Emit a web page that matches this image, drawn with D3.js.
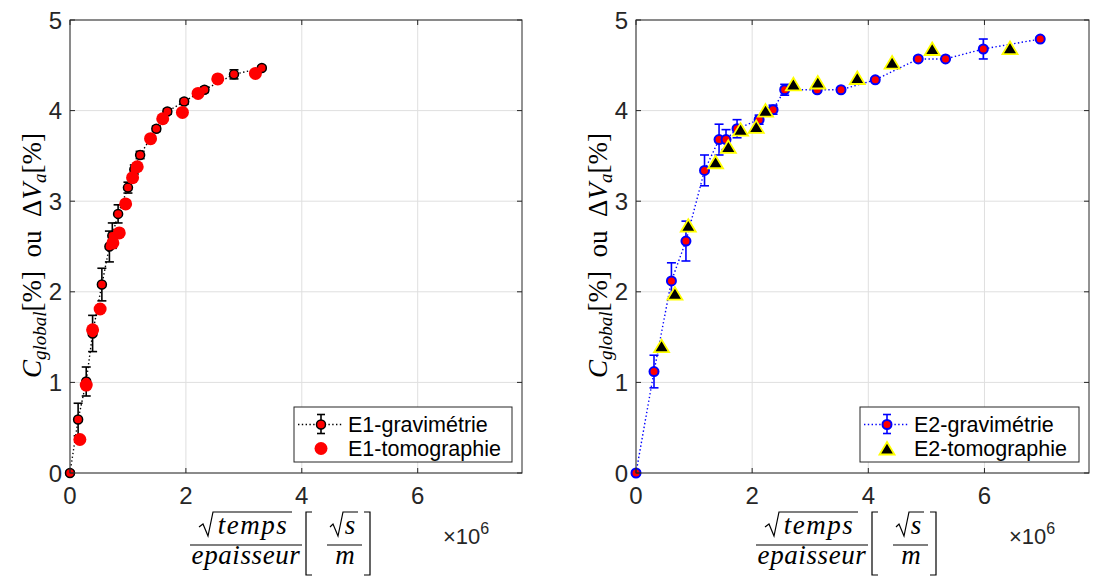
<!DOCTYPE html>
<html><head><meta charset="utf-8">
<script src="https://cdn.jsdelivr.net/npm/d3@7"></script>
<style>body{margin:0;background:#fff}</style>
</head><body>
<svg id="c" width="1096" height="576" xmlns="http://www.w3.org/2000/svg"></svg>
<script>
// ---- data (x in units of 10^6 sqrt(s)/m) ----
const xTicks = [0, 2, 4, 6];
const yTicks = [0, 1, 2, 3, 4, 5];
const xDomain = [0, 7.8];
const yDomain = [0, 5];

const e1GravX   = [0, 0.14, 0.28, 0.39, 0.55, 0.68, 0.73, 0.83, 1.00, 1.11, 1.21, 1.49, 1.68, 1.97, 2.32, 2.83, 3.31];
const e1GravY   = [0, 0.59, 1.01, 1.54, 2.08, 2.50, 2.62, 2.86, 3.15, 3.35, 3.51, 3.80, 3.99, 4.10, 4.23, 4.40, 4.47];
const e1GravErr = [0.02, 0.18, 0.16, 0.20, 0.18, 0.17, 0.14, 0.10, 0.06, 0.05, 0.04, 0.03, 0.03, 0.03, 0.03, 0.05, 0.02];
const e1TomoX   = [0.17, 0.28, 0.39, 0.52, 0.74, 0.85, 0.96, 1.08, 1.16, 1.39, 1.60, 1.94, 2.21, 2.55, 3.20];
const e1TomoY   = [0.37, 0.97, 1.58, 1.81, 2.54, 2.65, 2.97, 3.26, 3.38, 3.69, 3.91, 3.98, 4.19, 4.35, 4.41];

const e2GravX   = [0, 0.31, 0.61, 0.86, 1.18, 1.43, 1.55, 1.74, 2.12, 2.36, 2.56, 3.12, 3.53, 4.12, 4.86, 5.33, 5.98, 6.96];
const e2GravY   = [0, 1.12, 2.12, 2.56, 3.34, 3.68, 3.68, 3.80, 3.90, 4.01, 4.23, 4.23, 4.23, 4.34, 4.57, 4.57, 4.68, 4.79];
const e2GravErr = [0.02, 0.18, 0.20, 0.22, 0.17, 0.17, 0.11, 0.10, 0.05, 0.05, 0.06, 0.02, 0.02, 0.02, 0.02, 0.02, 0.11, 0.02];
const e2TomoX   = [0.44, 0.67, 0.90, 1.37, 1.59, 1.80, 2.07, 2.23, 2.71, 3.13, 3.81, 4.41, 5.10, 6.44];
const e2TomoY   = [1.40, 1.98, 2.73, 3.43, 3.60, 3.79, 3.82, 4.00, 4.29, 4.31, 4.36, 4.53, 4.68, 4.69];

const legend1 = ["E1-gravimétrie", "E1-tomographie"];
const legend2 = ["E2-gravimétrie", "E2-tomographie"];

// ---- drawing ----
const svg = d3.select("#c");
const AX = "#262626";
const tickFont = "'Liberation Sans', Arial, sans-serif";
const mathFont = "'Liberation Serif', 'Times New Roman', serif";

const triPath = "M0,-6.5L7.5,6L-7.5,6Z";

function panel(box, grav, tomo, style, legendTexts, legendBox) {
  const g = svg.append("g");
  const x = d3.scaleLinear().domain(xDomain).range([box.left, box.left + box.width]);
  const y = d3.scaleLinear().domain(yDomain).range([box.top + box.height, box.top]);

  // grid
  g.selectAll(".gx").data(xTicks).join("line")
    .attr("x1", d => x(d)).attr("x2", d => x(d))
    .attr("y1", box.top).attr("y2", box.top + box.height)
    .attr("stroke", "#dfdfdf").attr("stroke-width", 1);
  g.selectAll(".gy").data(yTicks).join("line")
    .attr("y1", d => y(d)).attr("y2", d => y(d))
    .attr("x1", box.left).attr("x2", box.left + box.width)
    .attr("stroke", "#dfdfdf").attr("stroke-width", 1);

  const gp = grav.x.map((v, i) => ({x: v, y: grav.y[i], e: grav.e[i]}));
  const tp = tomo.x.map((v, i) => ({x: v, y: tomo.y[i]}));

  // dotted line
  g.append("path").datum(gp)
    .attr("d", d3.line().x(d => x(d.x)).y(d => y(d.y)))
    .attr("fill", "none").attr("stroke", style.line).attr("stroke-width", 1.4)
    .attr("stroke-dasharray", "1.4,2.4");

  // error bars
  const eb = g.append("g").attr("stroke", style.line).attr("stroke-width", 1.6);
  gp.forEach(d => {
    const y0 = y(d.y - d.e), y1 = y(d.y + d.e), cx = x(d.x);
    eb.append("line").attr("x1", cx).attr("x2", cx).attr("y1", y0).attr("y2", y1);
    eb.append("line").attr("x1", cx - 4.5).attr("x2", cx + 4.5).attr("y1", y0).attr("y2", y0);
    eb.append("line").attr("x1", cx - 4.5).attr("x2", cx + 4.5).attr("y1", y1).attr("y2", y1);
  });

  // grav markers
  g.selectAll(".gm").data(gp).join("circle")
    .attr("cx", d => x(d.x)).attr("cy", d => y(d.y)).attr("r", 4.5)
    .attr("fill", "#ff0000").attr("stroke", style.line).attr("stroke-width", style.edgeW);

  // tomo markers
  if (style.tomo === "dot") {
    g.selectAll(".tm").data(tp).join("circle")
      .attr("cx", d => x(d.x)).attr("cy", d => y(d.y)).attr("r", 6.5)
      .attr("fill", "#ff0000");
  } else {
    g.selectAll(".tm").data(tp).join("path")
      .attr("transform", d => `translate(${x(d.x)},${y(d.y)})`)
      .attr("d", triPath).attr("fill", "#000").attr("stroke", "#ffff00")
      .attr("stroke-width", 1.8).attr("stroke-linejoin", "miter");
  }

  // frame
  g.append("rect").attr("x", box.left).attr("y", box.top)
    .attr("width", box.width).attr("height", box.height)
    .attr("fill", "none").attr("stroke", AX).attr("stroke-width", 1);

  // ticks (inward on all sides)
  const tl = 5;
  xTicks.forEach(t => {
    g.append("line").attr("x1", x(t)).attr("x2", x(t)).attr("y1", box.top + box.height).attr("y2", box.top + box.height - tl).attr("stroke", AX);
    g.append("line").attr("x1", x(t)).attr("x2", x(t)).attr("y1", box.top).attr("y2", box.top + tl).attr("stroke", AX);
  });
  yTicks.forEach(t => {
    g.append("line").attr("y1", y(t)).attr("y2", y(t)).attr("x1", box.left).attr("x2", box.left + tl).attr("stroke", AX);
    g.append("line").attr("y1", y(t)).attr("y2", y(t)).attr("x1", box.left + box.width).attr("x2", box.left + box.width - tl).attr("stroke", AX);
  });

  // tick labels
  g.selectAll(".xl").data(xTicks).join("text")
    .attr("x", d => x(d)).attr("y", box.top + box.height + 31)
    .attr("text-anchor", "middle").attr("font-family", tickFont).attr("font-size", 24)
    .attr("fill", AX).text(d => d);
  g.selectAll(".yl").data(yTicks).join("text")
    .attr("x", box.left - 8).attr("y", d => y(d) + 8.5)
    .attr("text-anchor", "end").attr("font-family", tickFont).attr("font-size", 24)
    .attr("fill", AX).text(d => d);

  // exponent label
  const ex = g.append("text").attr("x", box.left + 373).attr("y", 544)
    .attr("font-family", tickFont).attr("font-size", 22).attr("fill", AX);
  ex.append("tspan").text("×10");
  ex.append("tspan").attr("font-size", 16).attr("dy", -10).text("6");

  // legend
  const L = legendBox;
  const lg = g.append("g");
  lg.append("rect").attr("x", L.x).attr("y", L.y).attr("width", L.w).attr("height", L.h)
    .attr("fill", "#fff").attr("stroke", AX).attr("stroke-width", 1);
  const r1 = L.y + 17.5, r2 = L.y + 41.5, mx = L.x + 27;
  lg.append("line").attr("x1", L.x + 4).attr("x2", L.x + 49).attr("y1", r1).attr("y2", r1)
    .attr("stroke", style.line).attr("stroke-width", 1.4).attr("stroke-dasharray", "1.4,2.4");
  lg.append("line").attr("x1", mx).attr("x2", mx).attr("y1", r1 - 10).attr("y2", r1 + 9).attr("stroke", style.line).attr("stroke-width", 1.6);
  lg.append("line").attr("x1", mx - 4).attr("x2", mx + 4).attr("y1", r1 - 10).attr("y2", r1 - 10).attr("stroke", style.line).attr("stroke-width", 1.6);
  lg.append("line").attr("x1", mx - 4).attr("x2", mx + 4).attr("y1", r1 + 9).attr("y2", r1 + 9).attr("stroke", style.line).attr("stroke-width", 1.6);
  lg.append("circle").attr("cx", mx).attr("cy", r1).attr("r", 4.5).attr("fill", "#ff0000")
    .attr("stroke", style.line).attr("stroke-width", style.edgeW);
  if (style.tomo === "dot") {
    lg.append("circle").attr("cx", mx).attr("cy", r2).attr("r", 6.5).attr("fill", "#ff0000");
  } else {
    lg.append("path").attr("transform", `translate(${mx},${r2})`).attr("d", triPath)
      .attr("fill", "#000").attr("stroke", "#ffff00").attr("stroke-width", 1.8);
  }
  [r1, r2].forEach((r, i) => {
    lg.append("text").attr("x", L.x + 54).attr("y", r + 7.5)
      .attr("font-family", tickFont).attr("font-size", 21.5).attr("fill", "#000")
      .text(legendTexts[i]);
  });

  // y label
  const yl = g.append("text")
    .attr("transform", `translate(${box.left - 29},${box.top + box.height / 2 + 9}) rotate(-90)`)
    .attr("text-anchor", "middle").attr("font-family", mathFont).attr("font-size", 27).attr("fill", "#000");
  yl.append("tspan").attr("font-style", "italic").text("C");
  yl.append("tspan").attr("font-style", "italic").attr("font-size", 19).attr("dy", 5).text("global");
  yl.append("tspan").attr("dy", -5).text("[%]\u00a0\u00a0ou\u00a0\u00a0Δ");
  yl.append("tspan").attr("font-style", "italic").text("V");
  yl.append("tspan").attr("font-style", "italic").attr("font-size", 19).attr("dy", 5).text("a");
  yl.append("tspan").attr("dy", -5).text("[%]");

  // x label (fraction)
  const d = box.left - 70;
  const xl = g.append("g").attr("transform", `translate(${d},0)`);
  const st = {"fill": "none", "stroke": "#000", "stroke-width": 1.2};
  const P = (path) => { const p = xl.append("path").attr("d", path); Object.entries(st).forEach(([k, v]) => p.attr(k, v)); };
  P("M199,527L203,524L208,536L213,512L292,512");
  xl.append("text").attr("x", 253).attr("y", 534).attr("text-anchor", "middle")
    .attr("font-family", mathFont).attr("font-style", "italic").attr("font-size", 27)
    .attr("letter-spacing", 1.5).text("temps");
  P("M190,545L302,545");
  xl.append("text").attr("x", 246).attr("y", 564).attr("text-anchor", "middle")
    .attr("font-family", mathFont).attr("font-style", "italic").attr("font-size", 27)
    .attr("letter-spacing", 0.6).text("epaisseur");
  P("M312,512L306,512L306,575L312,575");
  P("M364,512L370,512L370,575L364,575");
  P("M330,527L333,524L338,536L343,512L358,512");
  xl.append("text").attr("x", 350).attr("y", 534).attr("text-anchor", "middle")
    .attr("font-family", mathFont).attr("font-style", "italic").attr("font-size", 27).text("s");
  P("M327,545L362,545");
  xl.append("text").attr("x", 345).attr("y", 564).attr("text-anchor", "middle")
    .attr("font-family", mathFont).attr("font-style", "italic").attr("font-size", 27).text("m");
}

panel({left: 70, top: 20, width: 452, height: 453},
  {x: e1GravX, y: e1GravY, e: e1GravErr}, {x: e1TomoX, y: e1TomoY},
  {line: "#000000", edgeW: 1.5, tomo: "dot"}, legend1,
  {x: 294, y: 407, w: 218, h: 55});

panel({left: 636, top: 20, width: 453, height: 453},
  {x: e2GravX, y: e2GravY, e: e2GravErr}, {x: e2TomoX, y: e2TomoY},
  {line: "#0000ff", edgeW: 2, tomo: "tri"}, legend2,
  {x: 860, y: 407, w: 219, h: 55});
</script>
</body></html>
